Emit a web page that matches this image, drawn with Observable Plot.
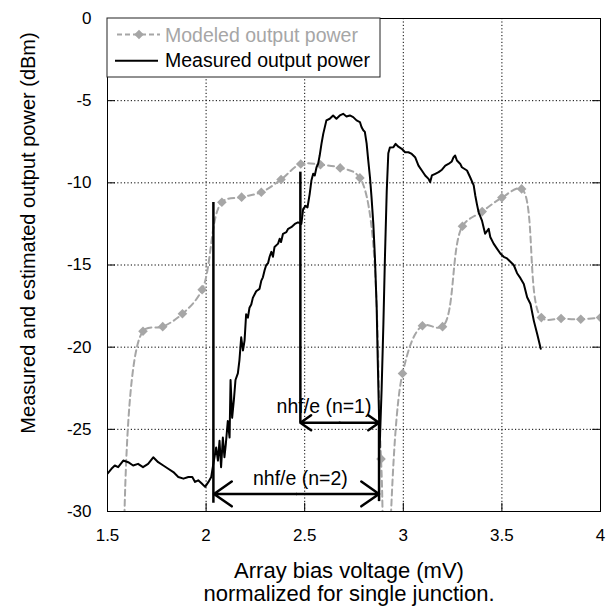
<!DOCTYPE html>
<html>
<head>
<meta charset="utf-8">
<script src="https://cdn.jsdelivr.net/npm/d3@7"></script>
<script src="https://cdn.jsdelivr.net/npm/@observablehq/plot@0.6"></script>
<style>
  html, body { margin: 0; padding: 0; background: #fff; }
  #chart { position: relative; width: 613px; height: 608px; }
</style>
</head>
<body>
<div id="chart"></div>
<script>
// ---------- data ----------
const xTicks = [1.5, 2, 2.5, 3, 3.5, 4];
const yTicks = [0, -5, -10, -15, -20, -25, -30];

// Modeled output power (dashed gray with diamonds); first and an inner point fall below the axis
const modeledX = [1.58, 1.68, 1.78, 1.88, 1.98, 2.08, 2.18, 2.28, 2.38, 2.48, 2.58, 2.68, 2.78, 2.887, 2.907, 2.996, 3.097, 3.199, 3.30, 3.40, 3.50, 3.60, 3.70, 3.80, 3.90, 4.00];
const modeledY = [-40, -19.03, -18.75, -17.97, -16.5, -11.18, -10.87, -10.57, -9.8, -8.85, -8.9, -9.09, -9.7, -26.8, -38, -21.6, -18.7, -18.75, -12.64, -11.75, -10.9, -10.37, -18.2, -18.26, -18.3, -18.2];

// Measured output power (solid black)
const measuredX = [1.50, 1.52, 1.537, 1.554, 1.58, 1.605, 1.63, 1.655, 1.68, 1.706, 1.732, 1.757, 1.783, 1.808, 1.834, 1.859, 1.885, 1.91, 1.93, 1.944, 1.96, 1.978, 1.995, 2.012, 2.026, 2.034, 2.051, 2.06, 2.068, 2.076, 2.085, 2.093, 2.10, 2.11, 2.119, 2.124, 2.132, 2.141, 2.149, 2.161, 2.169, 2.178, 2.187, 2.195, 2.203, 2.212, 2.22, 2.229, 2.237, 2.254, 2.271, 2.28, 2.288, 2.297, 2.305, 2.314, 2.322, 2.331, 2.339, 2.347, 2.365, 2.373, 2.38, 2.39, 2.407, 2.416, 2.432, 2.45, 2.466, 2.483, 2.492, 2.504, 2.514, 2.525, 2.534, 2.543, 2.551, 2.56, 2.568, 2.576, 2.585, 2.594, 2.602, 2.61, 2.627, 2.644, 2.661, 2.678, 2.695, 2.712, 2.729, 2.746, 2.763, 2.78, 2.788, 2.797, 2.805, 2.814, 2.822, 2.831, 2.839, 2.848, 2.856, 2.865, 2.87, 2.876, 2.88, 2.89, 2.899, 2.907, 2.916, 2.924, 2.932, 2.95, 2.961, 2.975, 2.992, 3.009, 3.026, 3.043, 3.06, 3.077, 3.094, 3.111, 3.128, 3.136, 3.145, 3.162, 3.179, 3.196, 3.213, 3.229, 3.246, 3.255, 3.263, 3.272, 3.289, 3.297, 3.323, 3.339, 3.357, 3.365, 3.373, 3.382, 3.399, 3.407, 3.415, 3.433, 3.441, 3.458, 3.475, 3.492, 3.509, 3.526, 3.543, 3.56, 3.577, 3.594, 3.611, 3.628, 3.645, 3.662, 3.679, 3.697];
const measuredY = [-27.7, -27.4, -27.2, -27.3, -26.9, -27.0, -27.2, -27.1, -27.3, -27.1, -26.7, -27.0, -27.2, -27.4, -27.6, -27.9, -28.0, -27.9, -27.9, -28.2, -28.1, -28.3, -28.5, -28.2, -27.9, -27.3, -26.1, -26.9, -25.7, -27.3, -25.5, -26.7, -25.9, -24.5, -25.5, -22.0, -24.3, -23.2, -22.0, -21.6, -20.8, -19.4, -20.2, -19.6, -18.0, -18.2, -17.6, -17.4, -17.0, -16.6, -16.45, -15.95, -15.75, -15.3, -15.0, -14.9, -14.5, -14.2, -14.5, -13.9, -13.7, -13.4, -13.6, -13.1, -13.0, -12.8, -12.7, -12.5, -12.4, -12.5, -11.6, -11.4, -11.5, -10.7, -9.86, -9.45, -9.55, -9.05, -8.85, -8.34, -7.63, -7.02, -6.61, -6.2, -6.1, -5.9, -6.1, -5.9, -5.8, -5.96, -5.9, -6.0, -6.2, -6.3, -6.6, -6.8, -6.9, -7.6, -8.6, -9.66, -10.9, -12.5, -14.5, -17.6, -20.6, -23.7, -26.1, -22.6, -18.6, -14.5, -10.5, -8.2, -7.85, -7.83, -7.63, -7.8, -7.93, -8.14, -8.14, -8.24, -8.44, -8.95, -9.25, -9.55, -9.76, -9.96, -9.55, -9.45, -9.35, -9.2, -8.95, -8.85, -8.7, -8.44, -8.34, -8.64, -8.85, -9.05, -9.25, -9.66, -10.16, -10.77, -11.28, -11.79, -12.3, -12.7, -13.1, -12.8, -13.3, -13.7, -14.0, -14.3, -14.5, -14.6, -14.8, -15.0, -15.5, -15.8, -16.15, -16.96, -17.37, -18.4, -19.2, -20.1];

// Annotation: marker lines, arrows and labels
const markerX = [2.037, 2.478, 2.877];
const markerTop = [-11.2, -9.35, -24.6];
const markerBottom = [-29.5, -24.6, -29.4];
const arrowLabels = ["nhf/e (n=1)", "nhf/e (n=2)"];
const arrowY = [-24.6, -28.93];
const arrowFrom = [2.478, 2.04];
const arrowTo = [2.877, 2.877];
const labelX = [2.598, 2.478];
const labelY = [-23.65, -28.0];

const legendLabels = ["Modeled output power", "Measured output power"];

// ---------- build tables ----------
const modeled = modeledX.map((x, i) => ({x, y: modeledY[i]}));
const measured = measuredX.map((x, i) => ({x, y: measuredY[i]}));
const markers = markerX.map((x, i) => ({x, y1: markerTop[i], y2: markerBottom[i]}));
const arrows = arrowLabels.map((label, i) => ({label, y: arrowY[i], a: arrowFrom[i], b: arrowTo[i], m: (arrowFrom[i] + arrowTo[i]) / 2, lx: labelX[i], ly: labelY[i]}));

const GRAY = "#a6a6a6";
const FONT = "'Liberation Sans', Arial, Helvetica, sans-serif";

const rhombus = {
  draw(ctx, size) {
    const s = 4.8;
    ctx.moveTo(0, -s); ctx.lineTo(s, 0); ctx.lineTo(0, s); ctx.lineTo(-s, 0); ctx.closePath();
  }
};

const grid = {stroke: "#000", strokeOpacity: 1, strokeWidth: 1, strokeDasharray: "1.2,2.2"};

const chart = Plot.plot({
  width: 613,
  height: 608,
  marginLeft: 107,
  marginRight: 13,
  marginTop: 18,
  marginBottom: 97,
  style: {fontFamily: FONT, fontSize: "17px", color: "#000", background: "#fff"},
  x: {domain: [1.5, 4], ticks: xTicks},
  y: {domain: [-30, 0], ticks: yTicks},
  marks: [
    Plot.gridX(xTicks, grid),
    Plot.gridY(yTicks, grid),
    Plot.ruleX(xTicks, {y1: -30, y2: -29.5, stroke: "#000", strokeWidth: 1}),
    Plot.ruleY(yTicks, {x1: 1.5, x2: 1.54, stroke: "#000", strokeWidth: 1}),
    Plot.ruleY(yTicks, {x1: 3.96, x2: 4, stroke: "#000", strokeWidth: 1}),
    Plot.axisX(xTicks, {tickSize: 0, tickPadding: 17, label: null, tickFormat: d => String(d), fontSize: 17}),
    Plot.axisY(yTicks, {tickSize: 0, tickPadding: 16, label: null, tickFormat: d => String(d), fontSize: 17}),
    // modeled
    Plot.line(modeled, {x: "x", y: "y", curve: "catmull-rom", stroke: GRAY, strokeWidth: 2, strokeDasharray: "6,4", clip: true}),
    Plot.dot(modeled, {x: "x", y: "y", symbol: rhombus, fill: GRAY, stroke: "none", clip: true}),
    // measured
    Plot.line(measured, {x: "x", y: "y", stroke: "#000", strokeWidth: 2, strokeLinejoin: "round", clip: true}),
    // annotations
    Plot.ruleX(markers, {x: "x", y1: "y1", y2: "y2", stroke: "#000", strokeWidth: 2.5}),
    Plot.arrow(arrows, {x1: "m", x2: "a", y1: "y", y2: "y", stroke: "#000", strokeWidth: 2.5, headLength: 13, headAngle: 70, inset: 0}),
    Plot.arrow(arrows, {x1: "m", x2: "b", y1: "y", y2: "y", stroke: "#000", strokeWidth: 2.5, headLength: 13, headAngle: 70, inset: 0}),
    Plot.text(arrows, {x: "lx", y: "ly", text: "label", fontSize: 19.5, fill: "#000", lineAnchor: "middle", textAnchor: "middle"}),
    // axis titles
    Plot.text(["Array bias voltage (mV)"], {frameAnchor: "bottom", dx: -5, dy: 59, text: d => d, fontSize: 22, lineAnchor: "middle", textAnchor: "middle"}),
    Plot.text(["normalized for single junction."], {frameAnchor: "bottom", dx: -5, dy: 82, text: d => d, fontSize: 22, lineAnchor: "middle", textAnchor: "middle"}),
    Plot.text(["Measured and estimated output power (dBm)"], {frameAnchor: "left", dx: -79, dy: -32, rotate: -90, text: d => d, fontSize: 20, lineAnchor: "middle", textAnchor: "middle"}),
    Plot.frame({stroke: "#000", strokeWidth: 1})
  ]
});

// legend drawn inside the plot's SVG (top-left corner of the frame)
const svg = d3.select(chart);
const lg = svg.append("g").attr("transform", "translate(107,18)")
  .attr("font-family", FONT).attr("text-anchor", "start");
lg.append("rect").attr("x", 0).attr("y", 0).attr("width", 273).attr("height", 59)
  .attr("fill", "#fff").attr("stroke", "#222").attr("stroke-width", 1);
lg.append("line").attr("x1", 10).attr("x2", 53).attr("y1", 16.5).attr("y2", 16.5)
  .attr("stroke", GRAY).attr("stroke-width", 2).attr("stroke-dasharray", "5,3");
lg.append("path").attr("d", "M32,11.7L36.8,16.5L32,21.3L27.2,16.5Z").attr("fill", GRAY);
lg.append("text").attr("x", 58).attr("y", 23.5).attr("font-size", 19.5).attr("fill", GRAY)
  .attr("text-anchor", "start").text(legendLabels[0]);
lg.append("line").attr("x1", 8).attr("x2", 51).attr("y1", 42.7).attr("y2", 42.7)
  .attr("stroke", "#000").attr("stroke-width", 2);
lg.append("text").attr("x", 58).attr("y", 48.8).attr("font-size", 19.5).attr("fill", "#000")
  .attr("text-anchor", "start").text(legendLabels[1]);

document.getElementById("chart").appendChild(chart);
</script>
</body>
</html>
